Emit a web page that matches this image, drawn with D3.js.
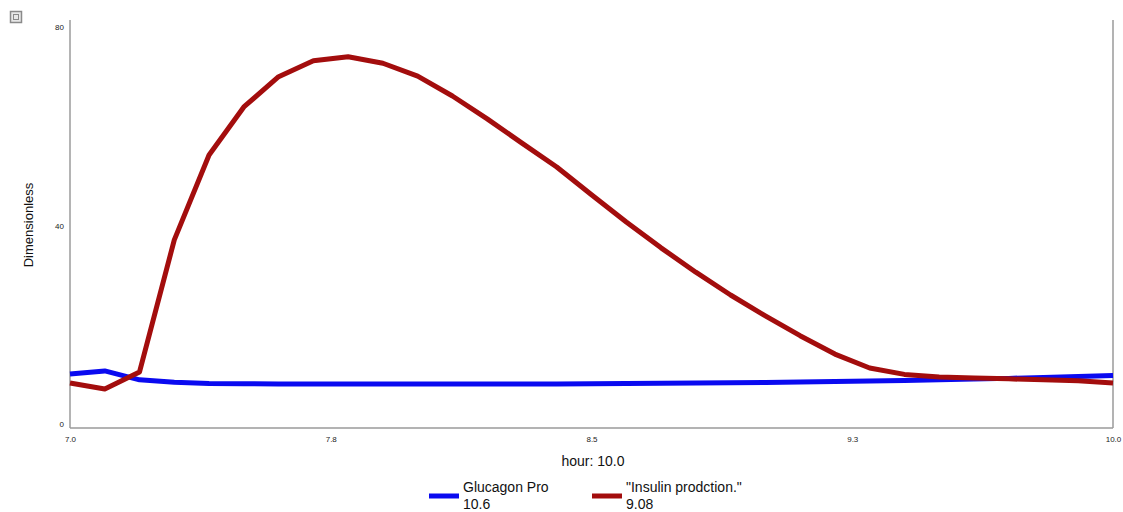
<!DOCTYPE html>
<html>
<head>
<meta charset="utf-8">
<script src="https://cdn.jsdelivr.net/npm/d3@7"></script>
<style>
  html, body { margin: 0; padding: 0; background: #fff; }
  svg { display: block; font-family: Arial, "Liberation Sans", sans-serif; }
</style>
</head>
<body>
<svg id="chart" width="1123" height="512"></svg>
<script>
// ---- data ----
const hours = [7.0,7.1,7.2,7.3,7.4,7.5,7.6,7.7,7.8,7.9,8.0,8.1,8.2,8.3,8.4,8.5,8.6,8.7,8.8,8.9,9.0,9.1,9.2,9.3,9.4,9.5,9.6,9.7,9.8,9.9,10.0];
const glucagon = [10.9,11.5,9.7,9.2,8.95,8.9,8.88,8.87,8.87,8.87,8.87,8.87,8.87,8.87,8.88,8.9,8.95,9.0,9.05,9.1,9.15,9.25,9.35,9.45,9.55,9.7,9.85,10.0,10.2,10.4,10.6];
const insulin = [9.07,7.86,11.3,37.9,55.0,64.7,70.8,74.0,74.8,73.5,70.9,66.9,62.3,57.4,52.6,47.0,41.5,36.3,31.4,26.8,22.6,18.6,14.9,12.1,10.8,10.3,10.1,9.9,9.7,9.5,9.08];
const xTicks = [7.0, 7.75, 8.5, 9.25, 10.0];
const xTickLabels = ["7.0", "7.8", "8.5", "9.3", "10.0"];
const yTicks = [0, 40, 80];
const seriesNames = ["Glucagon Pro", "\"Insulin prodction.\""];
const seriesFinal = ["10.6", "9.08"];
const seriesColors = ["#0a0af0", "#a30d0d"];
const yTitle = "Dimensionless";
const xTitle = "hour: 10.0";

(function () {
// ---- layout ----
const svg = d3.select("#chart");
const pLeft = 70, pRight = 1113, pTop = 20, pBottom = 428;

const x = d3.scaleLinear().domain([7, 10]).range([pLeft, pRight]);
const y = d3.scaleLinear().domain([0, 80]).range([pBottom, 31]);

// frame lines
svg.append("line").attr("x1", pLeft).attr("x2", pLeft).attr("y1", pTop).attr("y2", pBottom)
  .attr("stroke", "#b4b4b4").attr("stroke-width", 2);
svg.append("line").attr("x1", pRight).attr("x2", pRight).attr("y1", pTop).attr("y2", pBottom)
  .attr("stroke", "#9a9a9a").attr("stroke-width", 1.5);
svg.append("line").attr("x1", pLeft).attr("x2", pRight).attr("y1", pBottom).attr("y2", pBottom)
  .attr("stroke", "#9a9a9a").attr("stroke-width", 1.5);

// small icon top-left
const icon = svg.append("g");
icon.append("rect").attr("x", 10.5).attr("y", 11.5).attr("width", 11).attr("height", 11)
  .attr("fill", "#e8e8e8").attr("stroke", "#8a8a8a").attr("stroke-width", 1.5);
icon.append("rect").attr("x", 13.5).attr("y", 14.5).attr("width", 5).attr("height", 5)
  .attr("fill", "none").attr("stroke", "#8a8a8a").attr("stroke-width", 1);

// y tick labels
const yAxis = d3.axisLeft(y).tickValues(yTicks).tickSize(0).tickPadding(6).tickFormat(d3.format("d"));
const gy = svg.append("g").attr("transform", `translate(${pLeft},-4)`).call(yAxis);
gy.select(".domain").remove();
gy.selectAll("text").attr("font-size", 8).attr("fill", "#222");

// x tick labels
const xAxis = d3.axisBottom(x).tickValues(xTicks).tickSize(0).tickPadding(8)
  .tickFormat((d, i) => xTickLabels[i]);
const gx = svg.append("g").attr("transform", `translate(0,${pBottom})`).call(xAxis);
gx.select(".domain").remove();
gx.selectAll("text").attr("font-size", 8).attr("fill", "#222");

// axis titles
svg.append("text").attr("transform", `translate(33,225) rotate(-90)`)
  .attr("text-anchor", "middle").attr("font-size", 13).attr("fill", "#111").text(yTitle);
svg.append("text").attr("x", 593).attr("y", 466).attr("text-anchor", "middle")
  .attr("font-size", 14).attr("fill", "#111").text(xTitle);

// lines
const line = d3.line().x((d, i) => x(hours[i])).y(d => y(d));
[glucagon, insulin].forEach((s, i) => {
  svg.append("path").datum(s).attr("d", line).attr("fill", "none")
    .attr("stroke", seriesColors[i]).attr("stroke-width", 5)
    .attr("stroke-linejoin", "round").attr("stroke-linecap", "butt");
});

// legend
const legendX = [429, 592];
seriesNames.forEach((name, i) => {
  const g = svg.append("g").attr("transform", `translate(${legendX[i]},0)`);
  g.append("line").attr("x1", 0).attr("x2", 30).attr("y1", 496).attr("y2", 496)
    .attr("stroke", seriesColors[i]).attr("stroke-width", 5);
  g.append("text").attr("x", 34).attr("y", 492).attr("font-size", 14).attr("fill", "#111").text(name);
  g.append("text").attr("x", 34).attr("y", 509).attr("font-size", 14).attr("fill", "#111").text(seriesFinal[i]);
});
})();
</script>
</body>
</html>
